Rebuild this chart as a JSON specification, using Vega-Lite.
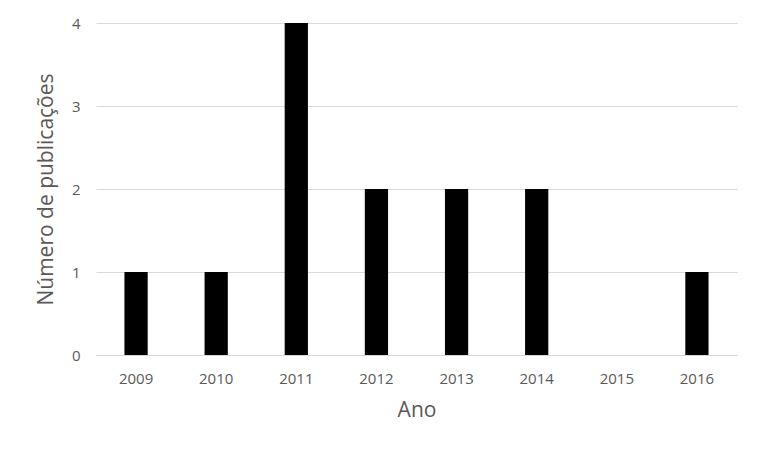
{
  "$schema": "https://vega.github.io/schema/vega-lite/v6.json",
  "autosize": {"type": "none"},
  "width": 641,
  "height": 332,
  "padding": {"left": 96, "top": 23, "right": 31, "bottom": 113},
  "background": "white",
  "config": {
    "view": {"stroke": null},
    "font": "Open Sans",
    "axis": {
      "labelFont": "Open Sans",
      "titleFont": "Open Sans",
      "labelColor": "#595959",
      "titleColor": "#595959",
      "labelFontSize": 15,
      "titleFontSize": 21,
      "titleFontWeight": "normal",
      "gridColor": "#d9d9d9",
      "domainColor": "#d9d9d9",
      "ticks": false
    }
  },
  "data": {
    "values": [
      {"ano": "2009", "n": 1},
      {"ano": "2010", "n": 1},
      {"ano": "2011", "n": 4},
      {"ano": "2012", "n": 2},
      {"ano": "2013", "n": 2},
      {"ano": "2014", "n": 2},
      {"ano": "2015", "n": 0},
      {"ano": "2016", "n": 1}
    ]
  },
  "mark": {"type": "bar", "color": "black"},
  "encoding": {
    "x": {
      "field": "ano",
      "type": "ordinal",
      "title": "Ano",
      "scale": {"paddingInner": 0.71, "paddingOuter": 0.355},
      "axis": {"labelAngle": 0, "labelPadding": 16, "titlePadding": 13, "domain": true, "grid": false}
    },
    "y": {
      "field": "n",
      "type": "quantitative",
      "title": "Número de publicações",
      "scale": {"domain": [0, 4]},
      "axis": {"values": [0, 1, 2, 3, 4], "domain": false, "labelPadding": 16, "titlePadding": 15, "grid": true}
    }
  }
}
